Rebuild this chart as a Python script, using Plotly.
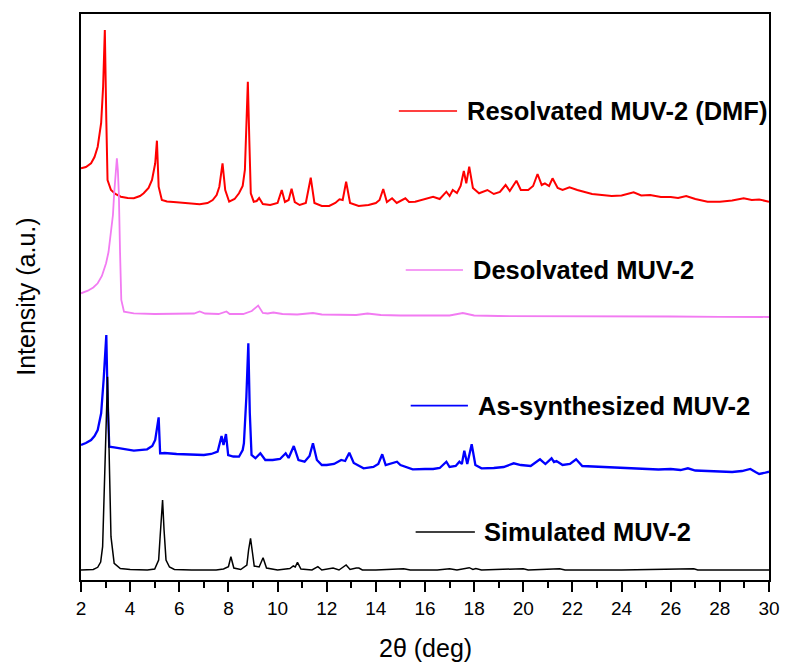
import plotly.graph_objects as go

# ---- Powder XRD patterns of MUV-2 (2theta in degrees, intensity in a.u.) ----

# Resolvated MUV-2 (DMF)
resolv_2t = [2.00, 2.20, 2.41, 2.55, 2.68, 2.82, 2.90, 2.97, 3.03, 3.08, 3.22, 3.40, 3.62, 3.90,
             4.15, 4.40, 4.55, 4.75, 4.89, 5.02, 5.09, 5.16, 5.29, 5.50, 5.89, 6.30, 6.83, 7.15,
             7.36, 7.52, 7.63, 7.76, 7.87, 8.03, 8.25, 8.43, 8.58, 8.67, 8.73, 8.79, 8.85, 8.91,
             9.03, 9.15, 9.25, 9.40, 9.70, 10.00, 10.17, 10.30, 10.45, 10.57, 10.70, 10.90, 11.15,
             11.35, 11.50, 11.80, 12.10, 12.35, 12.52, 12.65, 12.79, 12.95, 13.30, 13.70, 14.00,
             14.15, 14.30, 14.45, 14.66, 14.85, 15.20, 15.35, 15.60, 16.00, 16.33, 16.60, 16.87,
             17.00, 17.13, 17.30, 17.45, 17.58, 17.68, 17.80, 17.95, 18.20, 18.54, 18.80, 19.05,
             19.28, 19.45, 19.72, 19.90, 20.20, 20.40, 20.58, 20.75, 20.88, 21.05, 21.19, 21.40,
             21.60, 21.88, 22.20, 22.49, 22.80, 23.20, 23.60, 24.00, 24.49, 24.80, 25.16, 25.60,
             26.00, 26.30, 26.63, 27.00, 27.50, 28.00, 28.50, 28.97, 29.30, 29.60, 30.00]
resolv_int = [41.7, 43.0, 46.7, 53.0, 63.3, 87.0, 123.3, 180.0, 90.0, 30.0, 20.0, 16.0, 13.3, 12.0,
              11.7, 14.0, 16.7, 22.0, 30.0, 46.7, 69.3, 23.3, 10.0, 8.5, 7.7, 7.0, 5.7, 7.0,
              10.0, 15.0, 23.3, 46.7, 20.0, 8.3, 11.0, 16.7, 24.0, 40.0, 80.0, 128.3, 70.0, 16.7,
              8.3, 9.0, 12.0, 6.0, 5.0, 7.0, 20.0, 8.0, 10.0, 21.3, 8.0, 5.0, 7.0,
              32.3, 7.0, 4.0, 4.0, 7.0, 10.7, 10.0, 28.3, 7.0, 4.0, 5.0, 7.0,
              10.0, 21.0, 8.0, 11.7, 7.0, 11.7, 8.0, 8.3, 11.0, 13.3, 11.0, 18.3,
              14.0, 20.0, 17.0, 24.0, 39.0, 26.7, 43.3, 22.0, 16.7, 20.0, 16.0, 18.0,
              25.0, 19.0, 29.3, 20.0, 20.0, 24.0, 36.0, 25.0, 26.7, 24.0, 31.7, 22.0,
              20.0, 22.7, 20.0, 18.3, 16.0, 15.0, 14.0, 14.5, 17.7, 14.5, 15.0, 13.0,
              13.0, 12.0, 14.0, 11.0, 8.3, 8.3, 9.5, 11.7, 10.0, 10.5, 8.3]

# Desolvated MUV-2
desolv_2t = [2.00, 2.28, 2.50, 2.68, 2.85, 3.02, 3.12, 3.22, 3.30, 3.35, 3.42, 3.46, 3.50, 3.54,
             3.59, 3.64, 3.75, 4.15, 5.00, 6.00, 6.60, 6.83, 7.05, 7.60, 7.92, 8.05, 8.60, 8.95,
             9.21, 9.40, 9.60, 9.83, 10.20, 10.80, 11.44, 11.80, 12.50, 13.20, 13.66, 14.20, 15.00,
             16.00, 17.00, 17.54, 18.00, 19.00, 20.00, 22.00, 24.00, 26.00, 28.00, 30.00]
desolv_int = [26.7, 29.3, 32.5, 36.7, 44.0, 56.7, 68.0, 86.7, 105.0, 126.7, 155.0, 161.7, 150.0, 126.7,
              66.7, 20.0, 8.3, 6.7, 6.0, 6.2, 6.5, 8.5, 6.5, 6.0, 8.5, 6.0, 6.0, 9.0,
              14.5, 7.0, 6.5, 7.5, 6.0, 5.5, 7.0, 5.5, 5.0, 5.0, 6.5, 5.0, 4.5,
              4.5, 4.5, 7.0, 4.5, 4.0, 4.0, 3.5, 3.5, 3.5, 3.2, 3.0]

# As-synthesized MUV-2
assyn_2t = [2.00, 2.20, 2.41, 2.55, 2.68, 2.82, 2.92, 3.03, 3.08, 3.15, 3.35, 3.80, 4.15, 4.69,
            4.90, 5.02, 5.10, 5.16, 5.22, 5.40, 5.89, 6.50, 7.00, 7.30, 7.56, 7.72, 7.80, 7.90,
            7.99, 8.20, 8.43, 8.58, 8.63, 8.73, 8.81, 8.87, 8.94, 9.10, 9.30, 9.50, 9.80, 10.10,
            10.33, 10.45, 10.66, 10.85, 11.10, 11.30, 11.44, 11.60, 11.80, 12.00, 12.30, 12.59,
            12.75, 12.92, 13.10, 13.50, 13.90, 14.10, 14.26, 14.40, 14.86, 15.00, 15.50, 16.00,
            16.33, 16.60, 16.87, 17.00, 17.25, 17.40, 17.50, 17.60, 17.72, 17.90, 18.05, 18.30,
            18.80, 19.20, 19.61, 19.90, 20.30, 20.68, 20.90, 21.15, 21.25, 21.35, 21.60, 21.90,
            22.15, 22.40, 23.00, 23.50, 24.00, 24.50, 25.00, 25.50, 26.00, 26.40, 26.70, 27.00,
            27.50, 28.00, 28.50, 28.90, 29.24, 29.45, 29.60, 29.80, 30.00]
assyn_int = [35.0, 37.0, 40.0, 44.0, 50.0, 66.7, 100.0, 145.0, 83.3, 33.3, 32.7, 30.5, 29.3, 30.7,
             34.0, 40.0, 55.0, 62.7, 26.7, 27.0, 26.0, 25.5, 25.0, 26.0, 28.3, 44.0, 35.0, 46.0,
             25.0, 23.5, 23.3, 30.0, 36.7, 83.3, 136.7, 66.7, 25.0, 21.7, 26.7, 20.0, 20.0, 21.0,
             26.7, 22.0, 34.0, 20.0, 18.3, 24.0, 36.7, 20.0, 15.0, 15.0, 16.0, 20.0,
             19.0, 27.3, 17.0, 11.7, 13.0, 16.0, 25.7, 15.0, 18.3, 15.0, 10.7, 11.0,
             11.0, 12.0, 18.3, 13.0, 14.0, 18.3, 16.0, 29.3, 16.0, 35.7, 15.0, 11.7,
             12.0, 13.0, 16.7, 15.0, 14.0, 20.7, 16.0, 21.7, 18.0, 19.0, 15.0, 16.0,
             20.7, 14.0, 13.3, 13.0, 12.5, 12.0, 11.0, 10.5, 11.0, 10.0, 11.7, 9.5,
             9.0, 8.3, 8.0, 9.0, 11.0, 8.0, 6.0, 7.0, 8.3]

# Simulated MUV-2
sim_2t = [2.00, 2.50, 2.68, 2.80, 2.88, 2.97, 3.03, 3.08, 3.16, 3.22, 3.35, 3.60, 4.00, 4.70,
          5.00, 5.16, 5.22, 5.32, 5.38, 5.46, 5.60, 5.80, 6.50, 7.50, 7.80, 8.00, 8.10, 8.22,
          8.50, 8.75, 8.82, 8.90, 8.98, 9.05, 9.25, 9.41, 9.55, 10.00, 10.50, 10.64, 10.72,
          10.81, 10.95, 11.40, 11.64, 11.80, 12.26, 12.50, 12.79, 12.95, 13.20, 13.31, 13.45,
          14.00, 15.13, 15.40, 16.50, 17.00, 17.30, 17.80, 17.95, 18.07, 18.30, 20.00, 20.20,
          21.48, 21.70, 23.00, 24.00, 26.94, 27.10, 30.00]
sim_int = [10.0, 10.5, 12.7, 18.0, 33.3, 100.0, 160.0, 203.3, 110.0, 43.3, 16.7, 11.5, 10.5, 10.0,
           11.0, 20.0, 43.3, 80.0, 50.0, 20.0, 13.0, 10.5, 10.0, 10.0, 11.0, 13.3, 23.3, 12.0,
           10.5, 15.0, 30.0, 41.7, 27.0, 14.0, 13.0, 22.3, 12.0, 10.0, 11.5, 14.0, 13.0,
           17.7, 11.0, 10.0, 13.3, 10.0, 12.0, 10.0, 15.0, 10.5, 12.0, 12.0, 10.0,
           10.0, 11.3, 10.0, 10.0, 11.3, 10.0, 12.3, 10.5, 11.5, 10.0, 11.3, 10.0,
           11.3, 10.0, 10.0, 10.0, 11.2, 10.0, 10.0]

series_names = ["Resolvated MUV-2 (DMF)", "Desolvated MUV-2",
                "As-synthesized MUV-2", "Simulated MUV-2"]

# ---- Styling ----
colors = ["#FF0000", "#F27BF2", "#0000FF", "#000000"]
line_widths = [2.0, 1.8, 2.3, 1.5]
stack_offsets = [370, 260, 100, 0]          # vertical shift of each pattern in the stack
FONT = "Arial, 'Liberation Sans', sans-serif"

xs = [resolv_2t, desolv_2t, assyn_2t, sim_2t]
ys = [resolv_int, desolv_int, assyn_int, sim_int]

fig = go.Figure()
for x, y, name, col, lw, off in zip(xs, ys, series_names, colors, line_widths, stack_offsets):
    fig.add_trace(go.Scatter(
        x=x, y=[v + off for v in y], mode="lines", name=name,
        line=dict(color=col, width=lw, shape="linear"),
        showlegend=False, hoverinfo="x+name",
    ))

# In-plot labels: short coloured line segment + bold text (paper coordinates)
label_pos = [  # (line x0, line x1, text x, y) in paper fractions
    (0.4620, 0.5466, 0.5581, 0.8286),
    (0.4720, 0.5552, 0.5667, 0.5477),
    (0.4792, 0.5624, 0.5739, 0.3080),
    (0.4864, 0.5725, 0.5825, 0.0848),
]
for (x0, x1, tx, ty), name, col in zip(label_pos, series_names, colors):
    fig.add_shape(type="line", xref="paper", yref="paper", x0=x0, x1=x1, y0=ty, y1=ty,
                  line=dict(color=col, width=1.6))
    fig.add_annotation(xref="paper", yref="paper", x=tx, y=ty, text="<b>" + name + "</b>",
                       showarrow=False, xanchor="left", yanchor="middle",
                       font=dict(family=FONT, size=25.5, color="#000000"))

# Axis titles
fig.add_annotation(xref="paper", yref="paper", x=0.5007, y=-0.120, text="2θ (deg)",
                   showarrow=False, xanchor="center", yanchor="middle",
                   font=dict(family=FONT, size=25, color="#000000"))
fig.add_annotation(xref="paper", yref="paper", x=-0.0803, y=0.5, text="Intensity (a.u.)",
                   showarrow=False, xanchor="center", yanchor="middle", textangle=-90,
                   font=dict(family=FONT, size=25, color="#000000"))

fig.update_layout(
    width=792, height=663,
    margin=dict(l=81, r=14, t=14, b=83),
    paper_bgcolor="white", plot_bgcolor="white",
    font=dict(family=FONT, color="#000000"),
)
fig.update_xaxes(
    range=[2, 30], tick0=2, dtick=2,
    showline=True, linecolor="#000000", linewidth=2, mirror=True,
    ticks="outside", ticklen=10, tickwidth=1.5, tickcolor="#000000",
    tickfont=dict(family=FONT, size=19, color="#000000"),
    minor=dict(dtick=1, tick0=2, ticks="outside", ticklen=6, tickwidth=1.5, tickcolor="#000000"),
    showgrid=False, zeroline=False,
)
fig.update_yaxes(
    range=[0, 566], showticklabels=False, ticks="",
    showline=True, linecolor="#000000", linewidth=2, mirror=True,
    showgrid=False, zeroline=False,
)

fig.write_html("out.html")
